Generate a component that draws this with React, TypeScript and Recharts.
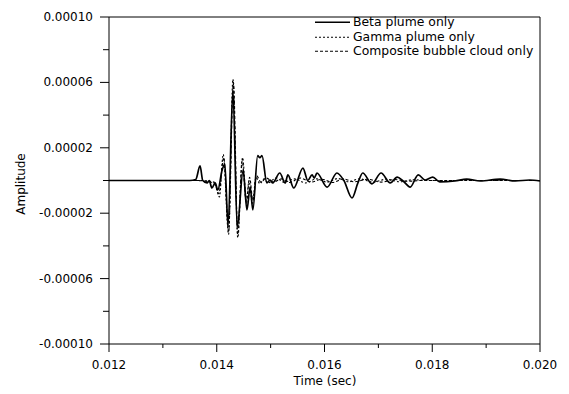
import React from 'react';
import { LineChart, Line, XAxis, YAxis, ReferenceLine } from 'recharts';

// time (s) and amplitude, one pair of arrays per series
const betaTime = [
  0.012, 0.0135, 0.01361, 0.01369, 0.01374, 0.01382, 0.01386, 0.01391, 0.01397, 0.01402,
  0.0141, 0.01415, 0.01421, 0.0143, 0.01438, 0.01449, 0.01456, 0.01462, 0.01467, 0.01476,
  0.0148, 0.01484, 0.01493, 0.01499, 0.01504, 0.01517, 0.01527, 0.01532, 0.01543, 0.0156,
  0.01569, 0.01577, 0.01581, 0.01586, 0.01605, 0.01623, 0.01636, 0.01651, 0.01662, 0.01671,
  0.01688, 0.01705, 0.01722, 0.01735, 0.01746, 0.01759, 0.01774, 0.01787, 0.01801, 0.01814,
  0.01842, 0.01864, 0.01889, 0.01926, 0.01954, 0.01981, 0.02,
];
const betaAmp = [
  0, 0, 0.6e-6, 8.9e-6, 0, -1.5e-6, 0, -4.6e-6, -1.5e-6, -5.8e-6,
  6.4e-6, 10e-6, -27.8e-6, 55.3e-6, -28.4e-6, 6.4e-6, -18e-6, -4e-6, -18e-6, 15.2e-6,
  14e-6, 15.2e-6, -1.5e-6, 0.3e-6, -1.5e-6, 4.6e-6, -1.5e-6, 3.4e-6, -4.6e-6, 7.6e-6,
  0, 3.4e-6, 1.5e-6, 4.6e-6, -4e-6, 4.6e-6, 0, -10.7e-6, -1.5e-6, 4.6e-6,
  -2.1e-6, 4.6e-6, -1.5e-6, 2.1e-6, -0.3e-6, -4e-6, 3.4e-6, 0.3e-6, 2.1e-6, -0.9e-6,
  -0.3e-6, 0.9e-6, -0.3e-6, 0.9e-6, -0.3e-6, 0.3e-6, -0.3e-6,
];

const gammaTime = [
  0.012, 0.0137, 0.01395, 0.01405, 0.01412, 0.01422, 0.0143, 0.01439, 0.01448, 0.01455,
  0.0146, 0.01466, 0.01473, 0.0148, 0.01488, 0.01495, 0.0151, 0.01525, 0.01545, 0.01565,
  0.01585, 0.01605, 0.01625, 0.01645, 0.01665, 0.0169, 0.01715, 0.0174, 0.01765, 0.0179,
  0.02,
];
const gammaAmp = [
  0, 0, -1e-6, -10e-6, 16e-6, -33e-6, 62e-6, -35e-6, 14e-6, -12e-6,
  0, -14e-6, 2e-6, -2e-6, 1e-6, -1.5e-6, 1.5e-6, -1e-6, 1e-6, -1.5e-6,
  1e-6, -1e-6, 1.2e-6, -0.8e-6, 1e-6, -1e-6, 0.8e-6, -0.8e-6, 0.5e-6, 0,
  0,
];

const compositeTime = [
  0.012, 0.0136, 0.01395, 0.01404, 0.01413, 0.01422, 0.01431, 0.01439, 0.01447, 0.01455,
  0.01461, 0.01467, 0.01474, 0.01482, 0.01492, 0.01505, 0.0152, 0.01535, 0.01555, 0.01575,
  0.01595, 0.01615, 0.01635, 0.01655, 0.0168, 0.01705, 0.0173, 0.01755, 0.0178, 0.02,
];
const compositeAmp = [
  0, 0, -1.5e-6, -8e-6, 14e-6, -31e-6, 60e-6, -33e-6, 12e-6, -14e-6,
  2e-6, -12e-6, 3e-6, -1e-6, 1.5e-6, -1e-6, 1e-6, -1.2e-6, 1.5e-6, -1e-6,
  0.8e-6, -1.2e-6, 1e-6, -0.8e-6, 0.8e-6, -1e-6, 0.6e-6, -0.5e-6, 0, 0,
];

const seriesNames = ['Beta plume only', 'Gamma plume only', 'Composite bubble cloud only'];

const xMajor = [0.012, 0.014, 0.016, 0.018, 0.02];
const xMinor = [0.013, 0.015, 0.017, 0.019];
const yMajor = [-0.0001, -0.00006, -0.00002, 0.00002, 0.00006, 0.0001];
const yMinor = [-0.00008, -0.00004, 0, 0.00004, 0.00008];

const FONT = '"DejaVu Sans", Verdana, sans-serif';

const toRows = (t: number[], v: number[]) => t.map((x, i) => ({ t: x, v: v[i] }));
const betaData = toRows(betaTime, betaAmp);
const gammaData = toRows(gammaTime, gammaAmp);
const compositeData = toRows(compositeTime, compositeAmp);

const isIn = (list: number[], v: number) => list.some((m) => Math.abs(m - v) < 1e-9);

const YTick = ({ x, y, payload }: any) => {
  const major = isIn(yMajor, payload.value);
  return (
    <g>
      <line x1={x - (major ? 9 : 6)} x2={x} y1={y} y2={y} stroke="#000" />
      {major && (
        <text x={x - 16} y={y} textAnchor="end" dominantBaseline="central" fontSize={12} fontFamily={FONT} fill="#000">
          {payload.value.toFixed(5)}
        </text>
      )}
    </g>
  );
};

const XTick = ({ x, y, payload }: any) => {
  const major = isIn(xMajor, payload.value);
  return (
    <g>
      <line x1={x} x2={x} y1={y} y2={y + (major ? 8 : 4)} stroke="#000" />
      {major && (
        <text x={x} y={y + 21} textAnchor="middle" dominantBaseline="central" fontSize={12} fontFamily={FONT} fill="#000">
          {payload.value.toFixed(3)}
        </text>
      )}
    </g>
  );
};

const legendDash = [undefined, '2 2', '3 2'];

const App = () => {
  return (
    <div style={{ position: 'relative', width: 553, height: 386 }}>
      <LineChart width={553} height={386} margin={{ top: 9, right: 21, bottom: 0, left: 0 }}>
        <XAxis
          type="number"
          dataKey="t"
          domain={[0.012, 0.02]}
          allowDataOverflow
          ticks={[...xMajor, ...xMinor].sort()}
          interval={0}
          height={50}
          stroke="#000"
          tickLine={false}
          tickSize={0}
          tickMargin={0}
          tick={<XTick />}
          label={() => (
            <text x={317} y={373} textAnchor="middle" dominantBaseline="central" fontSize={12} fontFamily={FONT} fill="#000">
              Time (sec)
            </text>
          )}
        />
        <YAxis
          type="number"
          domain={[-0.0001, 0.0001]}
          allowDataOverflow
          ticks={[...yMajor, ...yMinor].sort((a, b) => a - b)}
          interval={0}
          width={101}
          stroke="#000"
          tickLine={false}
          tickSize={0}
          tickMargin={0}
          tick={<YTick />}
          label={() => (
            <text x={13} y={176} transform="rotate(-90 13 176)" textAnchor="middle" dominantBaseline="central" fontSize={12} fontFamily={FONT} fill="#000">
              Amplitude
            </text>
          )}
        />
        <ReferenceLine y={0.0001} stroke="#000" />
        <ReferenceLine x={0.02} stroke="#000" />
        <Line data={compositeData} dataKey="v" name={seriesNames[2]} type="monotone" stroke="#000" strokeWidth={1.1} strokeDasharray="3 2" dot={false} isAnimationActive={false} />
        <Line data={gammaData} dataKey="v" name={seriesNames[1]} type="monotone" stroke="#000" strokeWidth={1.1} strokeDasharray="2 2" dot={false} isAnimationActive={false} />
        <Line data={betaData} dataKey="v" name={seriesNames[0]} type="monotone" stroke="#000" strokeWidth={1.7} dot={false} isAnimationActive={false} />
      </LineChart>
      <div style={{ position: 'absolute', left: 305, top: 7, fontFamily: FONT, fontSize: 12.4, lineHeight: '14.5px', color: '#000' }}>
        {seriesNames.map((name, i) => (
          <div key={name} style={{ display: 'flex', alignItems: 'center', whiteSpace: 'nowrap' }}>
            <svg width={40} height={14.5}>
              <line x1={2} x2={37} y1={7.25} y2={7.25} stroke="#000" strokeWidth={i === 0 ? 1.3 : 1} strokeDasharray={legendDash[i]} />
            </svg>
            <span>{name}</span>
          </div>
        ))}
      </div>
    </div>
  );
};

export default App;
